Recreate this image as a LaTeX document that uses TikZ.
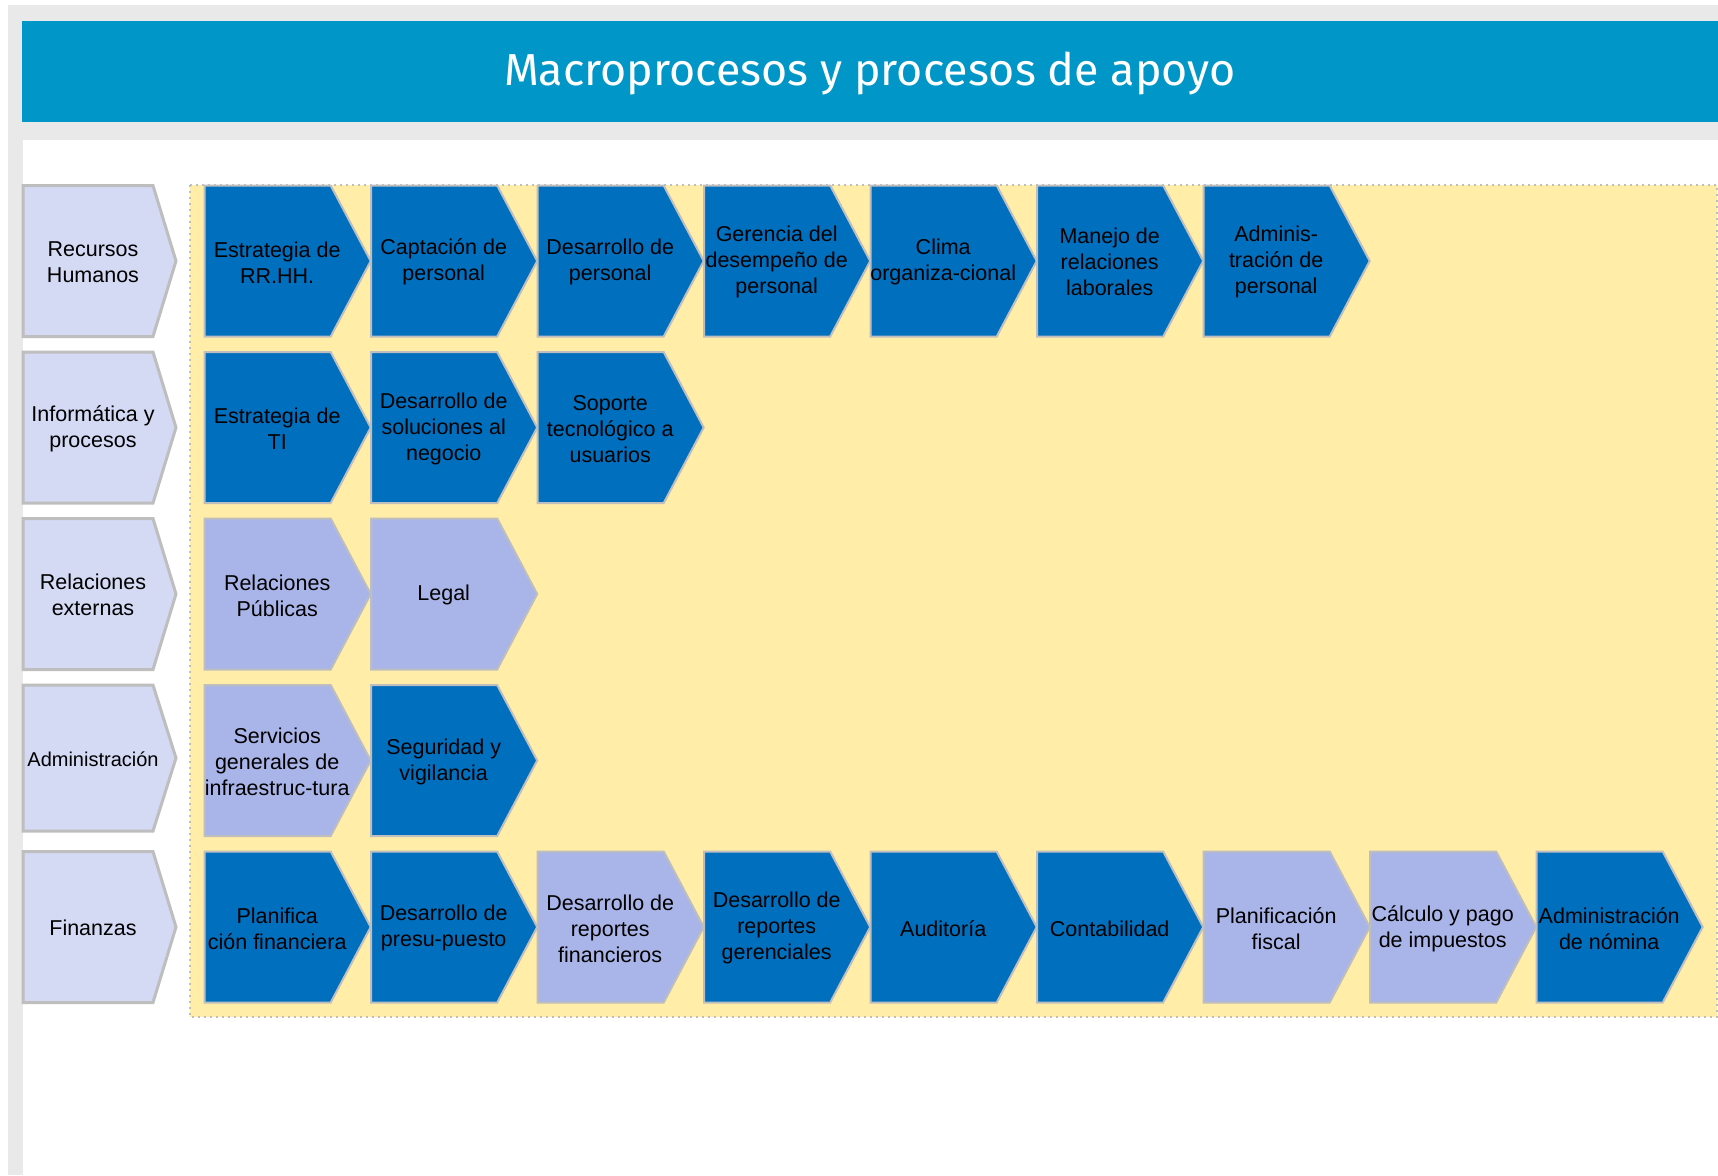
\documentclass[tikz,border=0pt]{standalone}
\usepackage{fontspec}
\setmainfont{Liberation Sans}
\newfontfamily\titulofont{Fira Sans}
\usepackage{tikz}
\usetikzlibrary{calc}

\definecolor{grismarco}{HTML}{E9E9E9}
\definecolor{azultitulo}{HTML}{0097C8}
\definecolor{azul}{HTML}{006FBE}
\definecolor{celeste}{HTML}{A9B5E9}
\definecolor{lavanda}{HTML}{D4D9F4}
\definecolor{amarillo}{HTML}{FFEDA8}
\definecolor{borde}{HTML}{BEBEBE}

% etiqueta de macroproceso: [alto]{nombre}{texto}
\newcommand{\etiqueta}[3][151]{%
  \draw[marco,fill=lavanda] (23,0) -- (153,0) -- (176,#1/2) -- (153,#1) -- (23,#1) -- cycle;
  \node[texto] (#2) at (93,#1/2+1) {#3};}
% proceso: {nombre}{x}{color}{texto}
\newcommand{\proceso}[4]{%
  \draw[flecha,fill=#3] (#2,0) -- ++(126,0) -- ++(40,75.5) -- ++(-40,75.5) -- ++(-126,0) -- cycle;
  \node[texto] (#1) at (#2+72.5,76.8) {#4};}

\begin{document}
\begin{tikzpicture}[x=0.5pt,y=-0.5pt,
  marco/.style={draw=borde,line width=1.5pt,line join=miter},
  flecha/.style={draw=borde,line width=1pt,line join=miter},
  texto/.style={align=center,inner sep=0pt,font=\fontsize{10.75}{13}\selectfont},
  titulo/.style={text=white,inner sep=0pt,font=\titulofont\fontsize{22.4}{26}\selectfont}]
\useasboundingbox (0,0) rectangle (1718,1175);
\fill[white] (0,0) rectangle (1718,1175);
%Marco
\fill[grismarco] (8,5) rectangle (1718,1175);
\fill[white] (23,140) rectangle (1718,1175);
\fill[azultitulo] (22,21) rectangle (1718,122);
\node[titulo] (T) at (870,73.5) {Macroprocesos y procesos de apoyo};
%Zona de procesos
\draw[draw=borde,fill=amarillo,line width=1pt,dotted] (190,184.5) rectangle (1717,1016.7);

\begin{scope}[shift={(0,185.5)}] %Recursos Humanos
	\etiqueta{RH}{Recursos\\Humanos}
	\proceso{A1}{204.7}{azul}{Estrategia de\\RR.HH.}
	\proceso{A2}{371.2}{azul}{Captación de\\personal}
	\proceso{A3}{537.7}{azul}{Desarrollo de\\personal}
	\proceso{A4}{704.2}{azul}{Gerencia del\\desempeño de\\personal}
	\proceso{A5}{870.7}{azul}{Clima\\organiza-cional}
	\proceso{A6}{1037.2}{azul}{Manejo de\\relaciones\\laborales}
	\proceso{A7}{1203.7}{azul}{Adminis-\\tración de\\personal}
\end{scope}
\begin{scope}[shift={(0,352)}] %Informatica
	\etiqueta{IP}{Informática y\\procesos}
	\proceso{B1}{204.7}{azul}{Estrategia de\\TI}
	\proceso{B2}{371.2}{azul}{Desarrollo de\\soluciones al\\negocio}
	\proceso{B3}{537.7}{azul}{Soporte\\tecnológico a\\usuarios}
\end{scope}
\begin{scope}[shift={(0,518.5)}] %Relaciones externas
	\etiqueta{RE}{Relaciones\\externas}
	\proceso{C1}{204.7}{celeste}{Relaciones\\Públicas}
	\proceso{C2}{371.2}{celeste}{Legal}
\end{scope}
\begin{scope}[shift={(0,685)}] %Administracion
	\etiqueta[146]{AD}{\fontsize{10}{12}\selectfont Administración}
	\proceso{D1}{204.7}{celeste}{Servicios\\generales de\\infraestruc-tura}
	\proceso{D2}{371.2}{azul}{Seguridad y\\vigilancia}
\end{scope}
\begin{scope}[shift={(0,851.5)}] %Finanzas
	\etiqueta{FI}{Finanzas}
	\proceso{E1}{204.7}{azul}{Planifica\\ción financiera}
	\proceso{E2}{371.2}{azul}{Desarrollo de\\presu-puesto}
	\proceso{E3}{537.7}{celeste}{Desarrollo de\\reportes\\financieros}
	\proceso{E4}{704.2}{azul}{Desarrollo de\\reportes\\gerenciales}
	\proceso{E5}{870.7}{azul}{Auditoría}
	\proceso{E6}{1037.2}{azul}{Contabilidad}
	\proceso{E7}{1203.7}{celeste}{Planificación\\fiscal}
	\proceso{E8}{1370.2}{celeste}{Cálculo y pago\\de impuestos}
	\proceso{E9}{1536.7}{azul}{Administración\\de nómina}
\end{scope}
\end{tikzpicture}
\end{document}
